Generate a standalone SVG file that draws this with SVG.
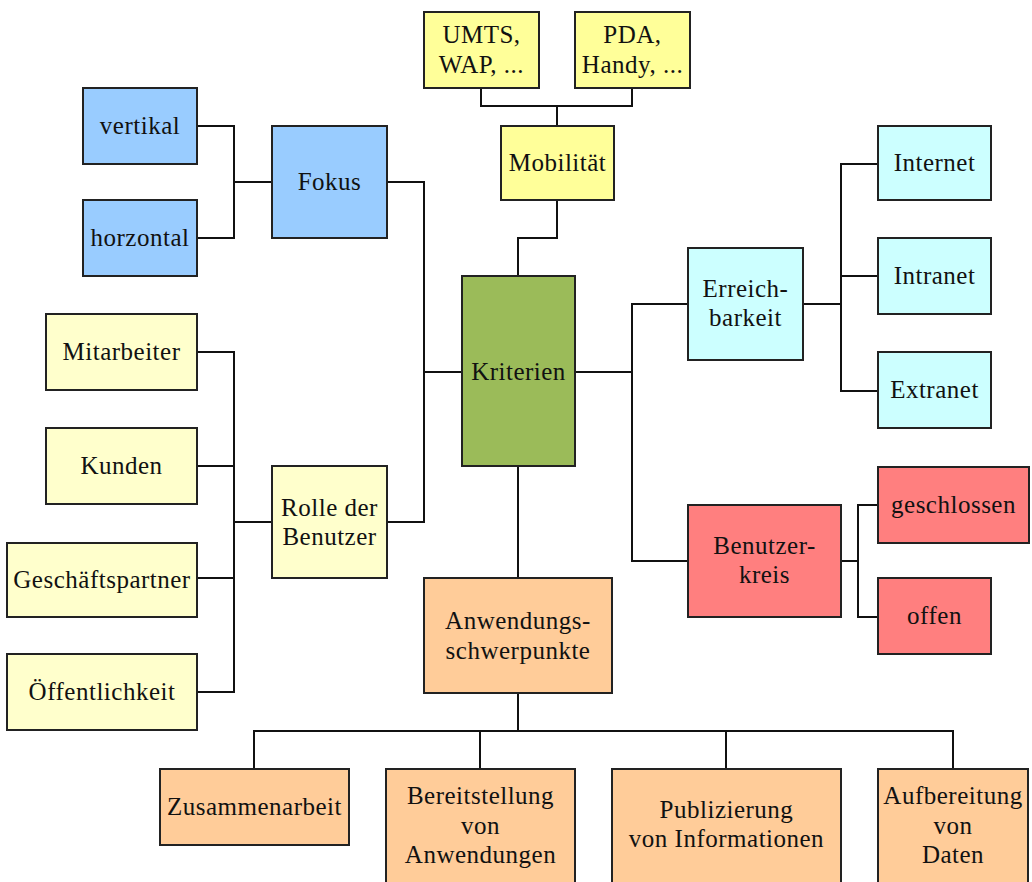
<svg xmlns="http://www.w3.org/2000/svg" width="1032" height="882" viewBox="0 0 1032 882">
<style>
rect{stroke:#222;stroke-width:2}
text{font-family:"Liberation Serif","Times New Roman",serif;font-size:25px;fill:#111;text-anchor:middle;letter-spacing:0.5px}
.blue{fill:#99ccff}.yel{fill:#ffff99}.pale{fill:#ffffcc}.green{fill:#9bbb59}.cyan{fill:#ccffff}.red{fill:#ff7f7f}.peach{fill:#ffcc99}
#connectors path{fill:none;stroke:#111;stroke-width:2}
</style>
<rect width="1032" height="882" fill="#fff" style="stroke:none"/>
<g id="connectors">
<path d="M197,126H234V238H197M234,182H272"/>
<path d="M387,182H424V522H387M424,372H462"/>
<path d="M481,88V106H632V88M557,106V126"/>
<path d="M557,200V238H518V276"/>
<path d="M575,372H632M688,304H632V561H688"/>
<path d="M803,304H841M878,164H841V391H878M841,276H878"/>
<path d="M841,561H858M878,505H858V617H878"/>
<path d="M197,352H234V692H197M197,466H234M197,578H234M234,522H272"/>
<path d="M518,466V578"/>
<path d="M518,693V731M254,769V731H953V769M480,731V769M726,731V769"/>
</g>
<g id="vertikal"><rect class="blue" x="83" y="88" width="114" height="76"/><text x="140" y="134">vertikal</text></g>
<g id="horzontal"><rect class="blue" x="83" y="200" width="114" height="76"/><text x="140" y="246">horzontal</text></g>
<g id="fokus"><rect class="blue" x="272" y="126" width="115" height="112"/><text x="329.5" y="190">Fokus</text></g>
<g id="umts"><rect class="yel" x="424" y="12" width="115" height="76"/><text x="481.5" y="43">UMTS,</text><text x="481.5" y="73">WAP, ...</text></g>
<g id="pda"><rect class="yel" x="575" y="12" width="115" height="76"/><text x="632.5" y="43">PDA,</text><text x="632.5" y="73">Handy, ...</text></g>
<g id="mobilitaet"><rect class="yel" x="501" y="126" width="113" height="74"/><text x="557.5" y="171">Mobilität</text></g>
<g id="kriterien"><rect class="green" x="462" y="276" width="113" height="190"/><text x="518.5" y="380">Kriterien</text></g>
<g id="internet"><rect class="cyan" x="878" y="126" width="113" height="74"/><text x="934.5" y="171">Internet</text></g>
<g id="intranet"><rect class="cyan" x="878" y="238" width="113" height="76"/><text x="934.5" y="284">Intranet</text></g>
<g id="extranet"><rect class="cyan" x="878" y="352" width="113" height="76"/><text x="934.5" y="398">Extranet</text></g>
<g id="erreichbarkeit"><rect class="cyan" x="688" y="248" width="115" height="112"/><text x="745.5" y="297">Erreich-</text><text x="745.5" y="326">barkeit</text></g>
<g id="benutzerkreis"><rect class="red" x="688" y="505" width="153" height="112"/><text x="764.5" y="554">Benutzer-</text><text x="764.5" y="583">kreis</text></g>
<g id="geschlossen"><rect class="red" x="878" y="467" width="151" height="76"/><text x="953.5" y="513">geschlossen</text></g>
<g id="offen"><rect class="red" x="878" y="578" width="113" height="76"/><text x="934.5" y="624">offen</text></g>
<g id="mitarbeiter"><rect class="pale" x="46" y="314" width="151" height="76"/><text x="121.5" y="360">Mitarbeiter</text></g>
<g id="kunden"><rect class="pale" x="46" y="428" width="151" height="76"/><text x="121.5" y="474">Kunden</text></g>
<g id="geschaeftspartner"><rect class="pale" x="7" y="543" width="190" height="74"/><text x="102" y="588">Geschäftspartner</text></g>
<g id="oeffentlichkeit"><rect class="pale" x="7" y="654" width="190" height="76"/><text x="102" y="700">Öffentlichkeit</text></g>
<g id="rolle"><rect class="pale" x="272" y="466" width="115" height="112"/><text x="329.5" y="516">Rolle der</text><text x="329.5" y="545">Benutzer</text></g>
<g id="anwendungsschwerpunkte"><rect class="peach" x="424" y="578" width="188" height="115"/><text x="518" y="629">Anwendungs-</text><text x="518" y="659">schwerpunkte</text></g>
<g id="zusammenarbeit"><rect class="peach" x="160" y="769" width="189" height="76"/><text x="254.5" y="815">Zusammenarbeit</text></g>
<g id="bereitstellung"><rect class="peach" x="386" y="769" width="189" height="115"/><text x="480.5" y="804">Bereitstellung</text><text x="480.5" y="834">von</text><text x="480.5" y="863">Anwendungen</text></g>
<g id="publizierung"><rect class="peach" x="612" y="769" width="229" height="115"/><text x="726.5" y="818">Publizierung</text><text x="726.5" y="847">von Informationen</text></g>
<g id="aufbereitung"><rect class="peach" x="878" y="769" width="150" height="115"/><text x="953" y="804">Aufbereitung</text><text x="953" y="834">von</text><text x="953" y="863">Daten</text></g>
</svg>
